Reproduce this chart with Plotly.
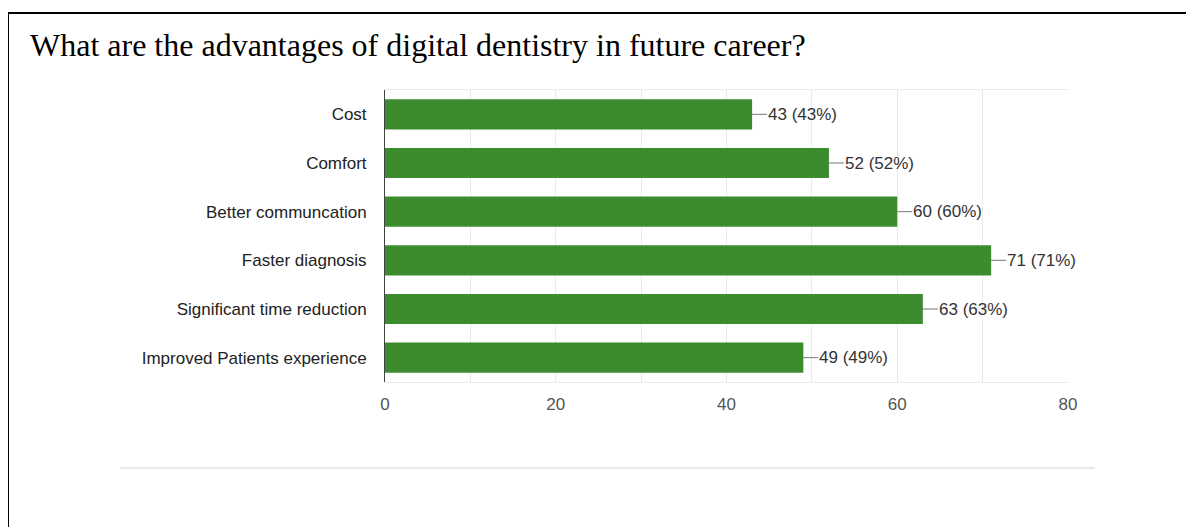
import plotly.graph_objects as go

categories = ["Cost", "Comfort", "Better communcation", "Faster diagnosis",
              "Significant time reduction", "Improved Patients experience"]
counts = [43, 52, 60, 71, 63, 49]
percents = [43, 52, 60, 71, 63, 49]
tick_values = [0, 20, 40, 60, 80]
title_text = "What are the advantages of digital dentistry in future career?"

# page body has an 8px margin; work in figure coordinates
OFF = 8
W, H = 1194 - OFF, 527 - OFF
L = 385 - OFF
T = 90 - OFF
R = W - (1068 - OFF)
B = H - (382 - OFF)
pw, ph = W - L - R, H - T - B

def px(x):
    return (x - OFF - L) / pw

def py(y):
    return 1 - (y - OFF - T) / ph

fig = go.Figure()
fig.add_trace(go.Bar(
    x=counts, y=categories, orientation="h",
    marker=dict(color="#3c8c2f", line=dict(width=0)),
    width=0.62, hoverinfo="x+y",
))

for c, v, p in zip(categories, counts, percents):
    fig.add_annotation(
        x=v, y=c, xref="x", yref="y",
        text=f"{v} ({p}%)", showarrow=True, arrowhead=0, arrowwidth=1,
        arrowcolor="#777", ax=15, ay=0, xanchor="left", yanchor="middle",
        font=dict(family="Liberation Sans, Arial", size=17, color="#333"),
        borderpad=0, standoff=0,
    )

shapes = [
    dict(type="line", xref="paper", yref="paper", x0=px(8), x1=px(1200), y0=py(13), y1=py(13),
         line=dict(color="#000", width=2)),
    dict(type="line", xref="paper", yref="paper", x0=px(8), x1=px(8), y0=py(13), y1=py(540),
         line=dict(color="#000", width=2)),
    dict(type="line", xref="paper", yref="paper", x0=px(120), x1=px(1095), y0=py(468), y1=py(468),
         line=dict(color="#d3d3d3", width=1)),
]

fig.update_layout(
    width=W, height=H,
    margin=dict(l=L, r=R, t=T, b=B),
    paper_bgcolor="white", plot_bgcolor="white",
    showlegend=False,
    title=dict(text=title_text, xref="container", yref="container",
               x=(30 - OFF) / W, xanchor="left", y=1 - (45 - OFF) / H, yanchor="middle",
               font=dict(family="Liberation Serif, Times New Roman", size=32, color="#000")),
    shapes=shapes,
    xaxis=dict(range=[0, 80], tickvals=tick_values, showgrid=True, gridcolor="#ebebeb",
               minor=dict(dtick=10, showgrid=True, gridcolor="#ebebeb", ticks=""),
               zeroline=False, showline=True, linecolor="#ebebeb", mirror=True,
               ticks="outside", ticklen=7, tickcolor="rgba(0,0,0,0)",
               tickfont=dict(family="Liberation Sans, Arial", size=17, color="#555")),
    yaxis=dict(categoryorder="array", categoryarray=categories[::-1],
               showgrid=False, zeroline=False, showline=True, linecolor="#444", linewidth=1,
               ticks="outside", ticklen=14, tickcolor="rgba(0,0,0,0)",
               tickfont=dict(family="Liberation Sans, Arial", size=17, color="#222")),
)

fig.write_html("out.html")
